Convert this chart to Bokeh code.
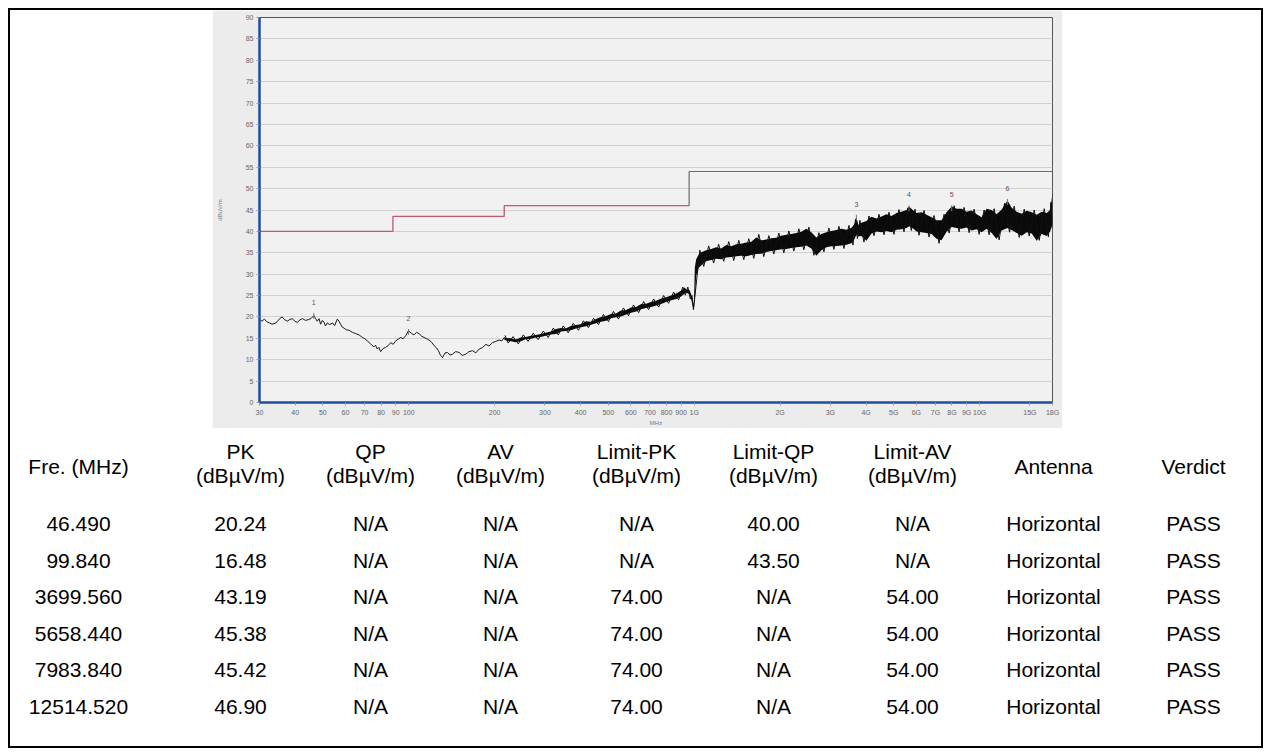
from bokeh.plotting import figure
from bokeh.layouts import column, row
from bokeh.models import Range1d, FixedTicker, Spacer, ColumnDataSource
from bokeh.core.properties import value
from bokeh.embed import file_html
from bokeh.resources import INLINE

# ---------------- data ----------------
# scan trace, 30 MHz - 216 MHz (thin line)
low_freq = [30.0, 30.6, 31.2, 31.8, 32.5, 33.2, 34.0, 34.6, 35.3, 36.0, 36.7, 37.5, 38.3, 39.1, 39.9,
            40.7, 41.5, 42.4, 43.5, 44.7, 45.6, 46.5, 47.2, 47.8, 48.5, 49.1, 49.8, 50.4, 51.1, 51.8,
            52.9, 54.0, 55.0, 56.2, 57.0, 57.7, 58.5, 59.3, 60.5, 61.7, 63.5, 65.2, 67.0, 68.8, 70.2,
            71.6, 73.5, 75.5, 76.5, 77.6, 78.6, 79.7, 81.3, 83.0, 84.7, 86.5, 88.2, 90.0, 91.8, 93.7,
            95.6, 97.6, 99.8, 102.0, 104.3, 106.5, 108.7, 111.0, 113.2, 115.5, 117.8, 120.2, 122.7, 125.0,
            127.1, 129.2, 131.3, 134.0, 136.7, 139.5, 142.3, 146.0, 150.1, 154.0, 158.5, 162.5, 167.3,
            171.8, 176.5, 181.0, 186.3, 191.0, 196.6, 202.0, 207.4, 212.0, 216.0]
low_level = [19.4, 19.0, 19.5, 18.9, 18.6, 18.3, 18.5, 18.9, 19.6, 20.0, 19.4, 19.0, 19.4, 19.6, 19.0,
             18.7, 19.3, 19.6, 19.2, 19.4, 19.7, 20.3, 19.6, 19.0, 19.6, 18.3, 19.2, 18.8, 17.9, 18.6,
             18.2, 18.6, 18.0, 19.5, 19.0, 18.3, 17.6, 17.4, 17.0, 16.9, 16.4, 16.1, 15.8, 15.2, 14.9,
             14.4, 13.7, 13.0, 13.4, 12.5, 12.9, 11.9, 12.6, 12.9, 13.3, 14.0, 13.6, 14.4, 14.8, 15.2,
             14.9, 15.6, 16.8, 16.2, 15.8, 16.4, 16.1, 15.5, 15.2, 14.9, 14.6, 14.1, 13.3, 12.8,
             12.1, 11.0, 10.5, 11.6, 11.7, 11.1, 11.3, 11.9, 11.7, 11.0, 11.3, 11.9, 12.1,
             11.6, 12.5, 12.8, 13.6, 13.2, 14.0, 14.3, 14.6, 14.4, 15.2]

# scan trace, 216 MHz - 18 GHz: upper and lower envelope of the noise band
band_freq = [216, 219, 228, 237, 247, 257, 268, 279, 290, 302, 315, 328, 341, 355, 370, 385, 401, 418,
             435, 453, 472, 491, 511, 532, 554, 577, 601, 626, 652, 678, 706, 736, 766, 797, 830, 865,
             900, 925, 937, 963, 976, 990, 998, 1005, 1016, 1037, 1058, 1102, 1147, 1194, 1243, 1295,
             1348, 1404, 1462, 1522, 1585, 1650, 1718, 1789, 1863, 1940, 2019, 2103, 2189, 2280, 2374,
             2471, 2573, 2680, 2790, 2905, 3024, 3149, 3279, 3414, 3555, 3647, 3700, 3760, 3854, 4013,
             4179, 4351, 4530, 4717, 4911, 5113, 5324, 5544, 5658, 5867, 6010, 6257, 6515, 6784, 7063,
             7355, 7658, 7984, 8302, 8644, 9001, 9372, 9758, 10160, 10579, 11015, 11469, 11943, 12515,
             12948, 13482, 14039, 14617, 15220, 15847, 16500, 17181, 17645, 17889, 18000]
band_hi = [15.3, 15.1, 15.0, 14.7, 15.2, 15.3, 15.6, 15.8, 16.0, 16.3, 16.6, 17.2, 17.4, 17.3, 17.9,
           18.1, 18.3, 19.0, 18.9, 19.5, 20.0, 20.2, 20.7, 20.8, 21.5, 21.6, 22.2, 22.3, 23.0, 23.1,
           23.5, 23.8, 24.3, 24.6, 25.0, 25.5, 26.1, 26.9, 26.5, 26.3, 25.3, 23.5, 22.8, 31.5, 33.5,
           34.6, 35.1, 35.6, 35.9, 36.3, 36.0, 36.8, 36.5, 37.0, 37.1, 37.4, 37.6, 38.6, 37.9, 38.1,
           38.4, 38.5, 39.0, 39.2, 39.4, 39.6, 39.9, 40.6, 39.8, 38.6, 39.4, 39.8, 40.1, 40.3, 40.6,
           40.4, 40.8, 41.8, 43.4, 41.5, 42.0, 42.4, 43.4, 43.0, 43.5, 44.0, 43.6, 44.3, 44.6, 45.0,
           45.8, 44.8, 44.3, 44.5, 43.9, 43.3, 42.6, 42.6, 44.5, 45.8, 45.3, 45.3, 44.6, 44.9, 44.0,
           43.3, 45.3, 45.0, 44.0, 45.1, 47.2, 45.5, 44.6, 44.1, 44.8, 44.5, 43.9, 44.6, 44.3, 45.0,
           47.5, 49.2]
band_lo = [14.7, 14.5, 14.3, 14.1, 14.3, 14.8, 14.9, 15.2, 15.3, 15.6, 15.9, 16.0, 16.6, 16.7, 16.9,
           17.3, 17.6, 17.8, 18.2, 18.5, 18.9, 19.1, 19.7, 19.9, 20.1, 20.6, 21.0, 21.3, 21.8, 22.1,
           22.3, 22.7, 23.0, 23.5, 23.9, 24.2, 24.8, 25.5, 25.7, 25.3, 24.1, 22.3, 22.0, 24.0, 29.5,
           31.5, 32.0, 33.0, 33.3, 33.6, 33.5, 33.9, 34.0, 34.2, 34.3, 34.2, 34.5, 34.7, 34.8, 35.2,
           35.4, 35.6, 35.8, 35.9, 36.1, 36.3, 36.4, 36.7, 36.0, 34.3, 35.6, 36.3, 36.5, 36.6, 36.7,
           36.9, 37.2, 38.2, 39.2, 38.8, 38.9, 37.8, 39.5, 40.0, 39.8, 40.1, 39.8, 40.4, 40.5, 40.8,
           41.2, 40.6, 40.0, 39.8, 39.6, 39.4, 38.3, 37.9, 39.9, 41.0, 40.8, 40.6, 40.9, 40.2, 40.5,
           39.8, 40.6, 39.6, 38.2, 40.2, 40.8, 40.3, 39.6, 39.0, 39.8, 39.5, 37.8, 39.4, 38.9, 40.0,
           41.0, 42.5]

# individual noise spikes sticking out of the band
spike_freq = [217.5, 223, 232, 242, 252, 262, 273, 284, 296, 308, 321, 334, 348, 362, 377, 393, 409,
              426, 444, 462, 481, 501, 521, 543, 565, 589, 613, 639, 665, 692, 721, 751, 781, 813, 847,
              882, 912, 931, 950, 969, 983, 994,
              1047, 1080, 1124, 1170, 1218, 1269, 1321, 1376, 1433, 1492, 1553, 1617, 1684, 1753, 1826,
              1901, 1979, 2061, 2146, 2234, 2327, 2422, 2522, 2626, 2735, 2847, 2964, 3086, 3214, 3346,
              3484, 3601, 3673, 3730, 3807, 3933, 4096, 4265, 4440, 4623, 4813, 5011, 5218, 5433, 5600,
              5762, 5938, 6132, 6385, 6648, 6922, 7208, 7505, 7820, 8142, 8472, 8821, 9185, 9564, 9958,
              10368, 10796, 11241, 11705, 12228, 12730, 13214, 13759, 14327, 14917, 15532, 16172, 16838,
              17412, 17766, 17950]
spike_level = [15.7, 13.9, 15.4, 13.7, 15.8, 14.3, 16.2, 14.7, 16.7, 15.2, 17.4, 15.8, 17.9, 16.3, 18.5,
               16.9, 19.1, 17.5, 19.7, 18.2, 20.6, 18.9, 21.3, 19.5, 22.1, 20.3, 22.8, 21.0, 23.6, 21.7,
               24.2, 22.3, 25.0, 23.2, 25.8, 24.0, 27.0, 25.1, 27.0, 24.2, 25.0, 21.7,
               35.6, 31.8, 36.6, 32.6, 37.0, 33.0, 37.6, 33.2, 37.9, 33.4, 38.3, 33.7, 39.3, 34.1, 39.0,
               34.7, 39.6, 35.0, 40.1, 35.4, 40.6, 35.7, 41.0, 34.4, 39.7, 35.2, 40.8, 35.8, 41.2, 36.0,
               41.4, 36.8, 42.9, 38.3, 42.6, 37.5, 43.6, 39.0, 44.0, 39.2, 44.5, 39.3, 45.1, 39.9, 45.5,
               40.2, 45.2, 39.1, 44.9, 38.7, 43.7, 37.2, 44.0, 39.6, 46.0, 39.9, 45.6, 39.7, 45.2, 39.3,
               45.0, 39.2, 45.3, 38.0, 46.6, 39.8, 45.9, 38.6, 45.2, 38.9, 45.0, 37.9, 45.3,
               38.7, 46.8, 41.2]

# limit lines
limit_red_freq = [30, 88, 88, 216, 216, 960]
limit_red_level = [40, 40, 43.5, 43.5, 46, 46]
limit_grey_freq = [960, 960, 18000]
limit_grey_level = [46, 54, 54]

# peak markers (from the table)
marker_id = ["1", "2", "3", "4", "5", "6"]
marker_freq = [46.490, 99.840, 3699.560, 5658.440, 7983.840, 12514.520]
marker_pk = [20.24, 16.48, 43.19, 45.38, 45.42, 46.90]

# axis ticks
x_ticks = [30, 40, 50, 60, 70, 80, 90, 100, 200, 300, 400, 500, 600, 700, 800, 900, 1000,
           2000, 3000, 4000, 5000, 6000, 7000, 8000, 9000, 10000, 15000, 18000]
x_tick_labels = ["30", "40", "50", "60", "70", "80", "90", "100", "200", "300", "400", "500", "600",
                 "700", "800", "900", "1G", "2G", "3G", "4G", "5G", "6G", "7G", "8G", "9G", "10G",
                 "15G", "18G"]
y_ticks = list(range(0, 95, 5))

# result table
headers_top = ["Fre. (MHz)", "PK", "QP", "AV", "Limit-PK", "Limit-QP", "Limit-AV", "Antenna", "Verdict"]
headers_unit = ["", "(dBµV/m)", "(dBµV/m)", "(dBµV/m)", "(dBµV/m)", "(dBµV/m)", "(dBµV/m)", "", ""]
col_fre = ["46.490", "99.840", "3699.560", "5658.440", "7983.840", "12514.520"]
col_pk = ["20.24", "16.48", "43.19", "45.38", "45.42", "46.90"]
col_qp = ["N/A"] * 6
col_av = ["N/A"] * 6
col_lim_pk = ["N/A", "N/A", "74.00", "74.00", "74.00", "74.00"]
col_lim_qp = ["40.00", "43.50", "N/A", "N/A", "N/A", "N/A"]
col_lim_av = ["N/A", "N/A", "54.00", "54.00", "54.00", "54.00"]
col_antenna = ["Horizontal"] * 6
col_verdict = ["PASS"] * 6

# ---------------- chart ----------------
TICK_FONT = "Liberation Sans"
chart = figure(width=850, height=418, x_axis_type="log",
               x_range=Range1d(30, 18000), y_range=Range1d(0, 90),
               output_backend="svg", toolbar_location=None,
               min_border_left=47, min_border_right=10, min_border_top=7, min_border_bottom=26)
chart.background_fill_color = "#f1f1f1"
chart.border_fill_color = "#ececec"
chart.outline_line_color = "#555555"
chart.outline_line_width = 1
chart.xgrid.visible = False
chart.ygrid.grid_line_color = "#d2d2d2"
chart.ygrid.grid_line_width = 1

chart.xaxis.ticker = FixedTicker(ticks=x_ticks)
chart.xaxis.major_label_overrides = {t: l for t, l in zip(x_ticks, x_tick_labels)}
chart.xaxis.minor_tick_line_color = None
chart.yaxis.ticker = FixedTicker(ticks=y_ticks)
chart.yaxis.minor_tick_line_color = None
for ax in (chart.xaxis[0], chart.yaxis[0]):
    ax.axis_line_color = "#1f4e9c"
    ax.axis_line_width = 2.5
    ax.major_tick_line_color = "#8a9ab8"
    ax.major_tick_in = 0
    ax.major_tick_out = 3
    ax.major_label_text_font = TICK_FONT
    ax.major_label_text_font_size = "7px"
    ax.major_label_text_color = "#666666"
    ax.major_label_standoff = 3
    ax.axis_label_text_font = TICK_FONT
    ax.axis_label_text_font_size = "6px"
    ax.axis_label_text_font_style = "normal"
    ax.axis_label_text_color = "#777777"
chart.xaxis.axis_label = "MHz"
chart.xaxis.axis_label_standoff = 1
chart.yaxis.axis_label = "dBuV/m"
chart.yaxis.axis_label_standoff = 20

chart.line(limit_red_freq, limit_red_level, line_color="#c4566f", line_width=1.3)
chart.line(limit_grey_freq, limit_grey_level, line_color="#6b6b6b", line_width=1.2)

chart.varea(x=band_freq, y1=band_lo, y2=band_hi, fill_color="#0a0a0a")
chart.line(spike_freq, spike_level, line_color="#111111", line_width=1)
chart.line(low_freq, low_level, line_color="#1a1a1a", line_width=1)

msrc = ColumnDataSource(dict(f=marker_freq, v=marker_pk, t=marker_id,
                             lv=[v + 2.6 for v in marker_pk]))
chart.scatter("f", "v", source=msrc, marker="dash", angle=1.5708, size=6,
              line_color="#777777", line_width=1)
chart.text("f", "lv", text="t", source=msrc, text_font=value(TICK_FONT), text_font_size="7px",
           text_color="#555555", text_align="center", text_baseline="bottom")

# ---------------- table ----------------
TW, TH = 1251, 318
table = figure(width=TW, height=TH, x_range=Range1d(0, TW), y_range=Range1d(TH, 0),
               output_backend="svg", toolbar_location=None,
               min_border=0, outline_line_color=None)
table.axis.visible = False
table.grid.visible = False
table.background_fill_color = "white"
table.border_fill_color = "white"

col_x = [68, 230, 360, 490, 626, 763, 902, 1043, 1183]
row_y = [95, 132, 168, 205, 241, 278]
hdr_top_y = [38, 23, 23, 23, 23, 23, 23, 38, 38]
hdr_unit_y = [47] * 9
columns = [col_fre, col_pk, col_qp, col_av, col_lim_pk, col_lim_qp, col_lim_av, col_antenna, col_verdict]

tx, ty, tt = [], [], []
for i in range(9):
    tx.append(col_x[i]); ty.append(hdr_top_y[i]); tt.append(headers_top[i])
    if headers_unit[i]:
        tx.append(col_x[i]); ty.append(hdr_unit_y[i]); tt.append(headers_unit[i])
    for r in range(6):
        tx.append(col_x[i]); ty.append(row_y[r]); tt.append(columns[i][r])
table.text(x=tx, y=ty, text=tt, text_font=value("Liberation Sans"), text_font_size="21px",
           text_color="#000000", text_align="center", text_baseline="middle")

left_pad = Spacer(width=202, height=418)
right_pad = Spacer(width=1251 - 202 - 850, height=418)
page = column(row(left_pad, chart, right_pad), table,
              styles={"border": "2px solid #000000", "margin": "8px"})

open("out.html", "w").write(file_html(page, INLINE))
